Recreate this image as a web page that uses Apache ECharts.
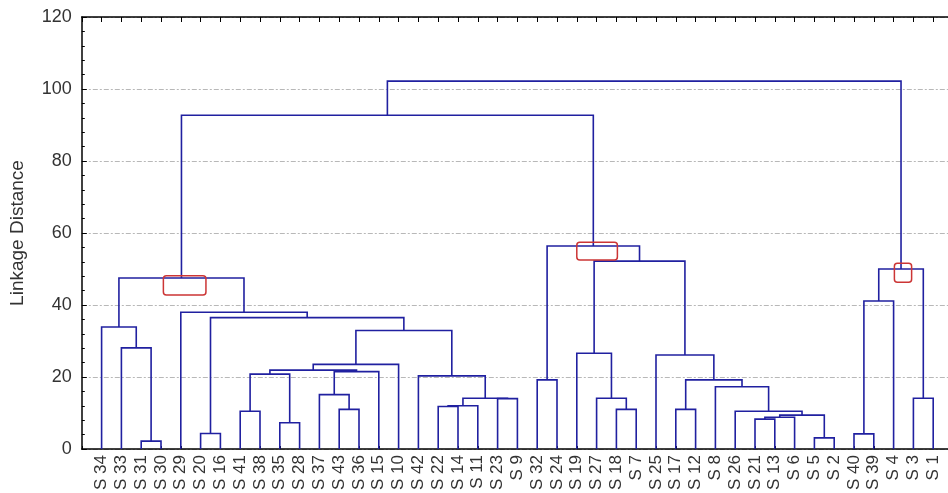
<!DOCTYPE html>
<html>
<head>
<meta charset="utf-8">
<script src="https://cdn.jsdelivr.net/npm/echarts@6/dist/echarts.min.js"></script>
<style>
  html, body { margin: 0; padding: 0; background: #fff; }
  #chart { width: 948px; height: 493px; }
</style>
</head>
<body>
<div id="chart"></div>
<script>
// leaf order along the x axis
const leaves = ['S 34', 'S 33', 'S 31', 'S 30', 'S 29', 'S 20', 'S 16', 'S 41', 'S 38', 'S 35', 'S 28',
  'S 37', 'S 43', 'S 36', 'S 15', 'S 10', 'S 42', 'S 22', 'S 14', 'S 11', 'S 23', 'S 9', 'S 32',
  'S 24', 'S 19', 'S 27', 'S 18', 'S 7', 'S 25', 'S 17', 'S 12', 'S 8', 'S 26', 'S 21', 'S 13',
  'S 6', 'S 5', 'S 2', 'S 40', 'S 39', 'S 4', 'S 3', 'S 1'];

// joins: [left child, right child, linkage distance]; a number = earlier join index
const merges = [
  ['S 31', 'S 30', 2.2],   // 0
  ['S 33', 0, 28.1],       // 1
  ['S 34', 1, 33.9],       // 2
  ['S 20', 'S 16', 4.3],   // 3
  ['S 41', 'S 38', 10.5],  // 4
  ['S 35', 'S 28', 7.3],   // 5
  [4, 5, 20.8],            // 6
  ['S 43', 'S 36', 11.0],  // 7
  ['S 37', 7, 15.1],       // 8
  [8, 'S 15', 21.5],       // 9
  [6, 9, 21.9],            // 10
  [10, 'S 10', 23.5],      // 11
  ['S 22', 'S 14', 11.8],  // 12
  [12, 'S 11', 12.0],      // 13
  ['S 23', 'S 9', 14.0],   // 14
  [13, 14, 14.1],          // 15
  ['S 42', 15, 20.3],      // 16
  [11, 16, 32.9],          // 17
  [3, 17, 36.5],           // 18
  ['S 29', 18, 38.0],      // 19
  [2, 19, 47.5],           // 20
  ['S 32', 'S 24', 19.2],  // 21
  ['S 18', 'S 7', 11.0],   // 22
  ['S 27', 22, 14.1],      // 23
  ['S 19', 23, 26.6],      // 24
  ['S 17', 'S 12', 11.0],  // 25
  ['S 21', 'S 13', 8.3],   // 26
  [26, 'S 6', 8.8],        // 27
  ['S 5', 'S 2', 3.1],     // 28
  [27, 28, 9.4],           // 29
  ['S 26', 29, 10.5],      // 30
  ['S 8', 30, 17.3],       // 31
  [25, 31, 19.2],          // 32
  ['S 25', 32, 26.1],      // 33
  [24, 33, 52.2],          // 34
  [21, 34, 56.4],          // 35
  ['S 40', 'S 39', 4.2],   // 36
  [36, 'S 4', 41.1],       // 37
  ['S 3', 'S 1', 14.1],    // 38
  [37, 38, 50.0],          // 39
  [20, 35, 92.7],          // 40
  [40, 39, 102.2]          // 41
];

// red cut markers: [x from, x to, distance from, distance to] (x in leaf units)
const cutBoxes = [
  [4.12, 6.27, 42.8, 48.1],
  [25.0, 27.05, 52.5, 57.4],
  [41.04, 41.91, 46.3, 51.6]
];

const yTicks = { min: 0, max: 120, step: 20 };

// place each join between its children
const pos = {}, hgt = {};
leaves.forEach((n, i) => { pos[n] = i + 1; hgt[n] = 0; });
const key = c => (typeof c === 'number' ? 'm' + c : c);
const links = merges.map(([a, b, h], i) => {
  const ka = key(a), kb = key(b);
  pos['m' + i] = (pos[ka] + pos[kb]) / 2;
  hgt['m' + i] = h;
  return [pos[ka], hgt[ka], pos[kb], hgt[kb], h];
});

const font = '"Liberation Sans", Arial, sans-serif';
const black = { color: '#000', width: 1.5 };
const xMax = leaves.length + 1;

const chart = echarts.init(document.getElementById('chart'));
chart.setOption({
  animation: false,
  // plot runs past the right edge, as in the original
  grid: { left: 81.8, top: 17, width: 871.2, height: 432, containLabel: false, outerBoundsMode: 'none' },
  xAxis: [
    {
      type: 'value', min: 0, max: xMax, interval: 1, position: 'bottom',
      axisLine: { lineStyle: black },
      axisTick: { inside: true, length: 3, lineStyle: { color: '#000' } },
      axisLabel: {
        rotate: 90, fontSize: 17, color: '#333', fontFamily: font, margin: 6,
        formatter: v => leaves[Math.round(v) - 1] || ''
      },
      splitLine: { show: false }
    },
    {
      type: 'value', min: 0, max: xMax, interval: 1, position: 'top',
      axisLine: { lineStyle: black },
      axisTick: { inside: true, length: 5, lineStyle: { color: '#000' } },
      axisLabel: { show: false },
      splitLine: { show: false }
    }
  ],
  yAxis: {
    type: 'value', min: yTicks.min, max: yTicks.max, interval: yTicks.step,
    name: 'Linkage Distance', nameLocation: 'middle', nameGap: 55,
    nameTextStyle: { fontSize: 19, color: '#333', fontFamily: font },
    axisLine: { show: true, lineStyle: black },
    axisTick: { inside: true, length: 5, lineStyle: { color: '#000' } },
    minorTick: { show: true, splitNumber: 5, length: 3, lineStyle: { color: '#000' } },
    axisLabel: { fontSize: 18, color: '#333', fontFamily: font, margin: 10 },
    splitLine: { lineStyle: { color: '#b8b8b8', width: 1, type: [5, 2, 2, 2] } }
  },
  series: [
    {
      type: 'custom', data: links, silent: true, clip: false,
      encode: { x: [0, 2], y: [1, 3, 4] },
      renderItem: (params, api) => {
        const pts = [
          [api.value(0), api.value(1)], [api.value(0), api.value(4)],
          [api.value(2), api.value(4)], [api.value(2), api.value(3)]
        ].map(p => api.coord(p));
        return { type: 'polyline', shape: { points: pts }, style: { stroke: '#2020a0', lineWidth: 1.6, fill: null } };
      }
    },
    {
      type: 'custom', data: cutBoxes, silent: true, clip: false,
      encode: { x: [0, 1], y: [2, 3] },
      renderItem: (params, api) => {
        const a = api.coord([api.value(0), api.value(3)]);
        const b = api.coord([api.value(1), api.value(2)]);
        return {
          type: 'rect', z2: 10,
          shape: { x: a[0], y: a[1], width: b[0] - a[0], height: b[1] - a[1], r: 3 },
          style: { stroke: '#cc3535', lineWidth: 1.5, fill: 'none' }
        };
      }
    }
  ]
});
</script>
</body>
</html>
